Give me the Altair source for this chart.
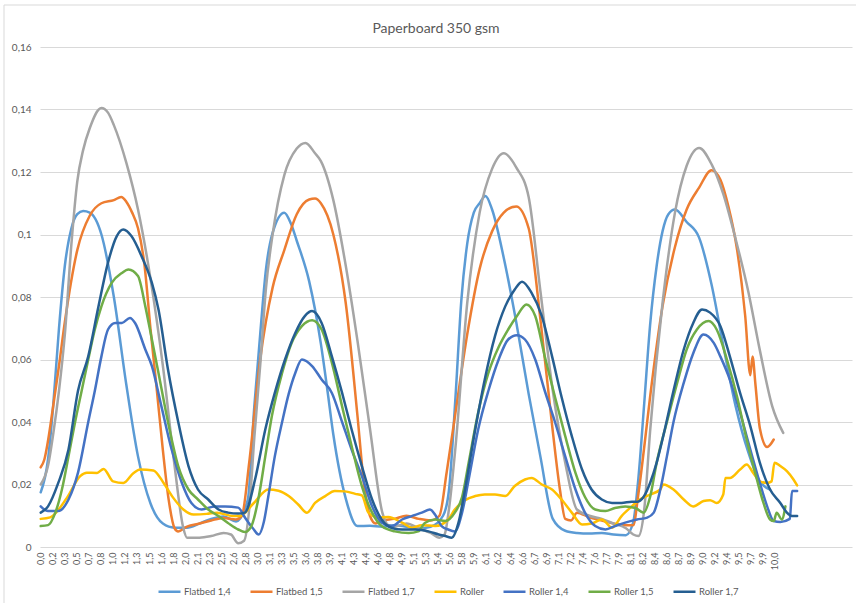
import json
import altair as alt
import pandas as pd

# ---------------- data ----------------
series_names = ["Flatbed 1,4", "Flatbed 1,5", "Flatbed 1,7", "Roller",
                "Roller 1,4", "Roller 1,5", "Roller 1,7"]
series_colors = ["#5B9BD5", "#ED7D31", "#A5A5A5", "#FFC000",
                 "#4472C4", "#70AD47", "#255E91"]

# category labels shown every 10th sample (sample step 0.01645)
x_tick_labels = ["0,0", "0,2", "0,3", "0,5", "0,7", "0,8", "1,0", "1,2", "1,3", "1,5",
                 "1,6", "1,8", "2,0", "2,1", "2,3", "2,5", "2,6", "2,8", "3,0", "3,1",
                 "3,3", "3,5", "3,6", "3,8", "3,9", "4,1", "4,3", "4,4", "4,6", "4,8",
                 "4,9", "5,1", "5,3", "5,4", "5,6", "5,8", "5,9", "6,1", "6,2", "6,4",
                 "6,6", "6,7", "6,9", "7,1", "7,2", "7,4", "7,6", "7,7", "7,9", "8,1",
                 "8,2", "8,4", "8,6", "8,7", "8,9", "9,0", "9,2", "9,4", "9,5", "9,7",
                 "9,9", "10,0"]
x_label_step = 0.1645
y_tick_values = [0, 0.02, 0.04, 0.06, 0.08, 0.10, 0.12, 0.14, 0.16]

flatbed_14 = [(0.00, 0.0175), (0.10, 0.028), (0.17, 0.045), (0.25, 0.070), (0.33, 0.090),
              (0.42, 0.102), (0.50, 0.1065), (0.58, 0.1075), (0.67, 0.107), (0.83, 0.100),
              (1.00, 0.080), (1.17, 0.052), (1.33, 0.029), (1.50, 0.014), (1.67, 0.0075),
              (1.83, 0.0062), (2.00, 0.0062), (2.17, 0.0075), (2.33, 0.009), (2.50, 0.0098),
              (2.67, 0.0082), (2.83, 0.015), (2.92, 0.045), (3.00, 0.068), (3.08, 0.089),
              (3.17, 0.1005), (3.33, 0.107), (3.42, 0.1035), (3.50, 0.098), (3.67, 0.085),
              (3.83, 0.065), (3.92, 0.050), (4.00, 0.036), (4.17, 0.0155), (4.33, 0.0067),
              (4.50, 0.0068), (4.67, 0.0065), (4.83, 0.007), (5.00, 0.0065), (5.17, 0.006),
              (5.33, 0.0065), (5.50, 0.010), (5.58, 0.018), (5.67, 0.048), (5.75, 0.079),
              (5.83, 0.097), (5.92, 0.107), (6.00, 0.110), (6.08, 0.1123), (6.17, 0.108),
              (6.33, 0.0925), (6.50, 0.072), (6.67, 0.049), (6.83, 0.029), (7.00, 0.009),
              (7.17, 0.0052), (7.33, 0.0045), (7.50, 0.0043), (7.67, 0.0045), (7.83, 0.004),
              (8.00, 0.0038), (8.10, 0.008), (8.17, 0.022), (8.25, 0.046), (8.33, 0.071),
              (8.42, 0.090), (8.50, 0.101), (8.58, 0.1065), (8.67, 0.108), (8.83, 0.104),
              (9.00, 0.099), (9.17, 0.084), (9.33, 0.0645), (9.50, 0.045), (9.67, 0.0305),
              (9.83, 0.021), (9.97, 0.0184)]

flatbed_15 = [(0.00, 0.0255), (0.05, 0.028), (0.10, 0.034), (0.17, 0.045), (0.25, 0.058),
              (0.33, 0.072), (0.50, 0.095), (0.67, 0.106), (0.83, 0.110), (1.00, 0.111),
              (1.10, 0.112), (1.17, 0.1105), (1.25, 0.107), (1.33, 0.102), (1.42, 0.090),
              (1.50, 0.070), (1.58, 0.052), (1.67, 0.031), (1.75, 0.015), (1.83, 0.006),
              (1.88, 0.005), (2.00, 0.0065), (2.17, 0.0075), (2.33, 0.0085), (2.50, 0.0093),
              (2.67, 0.0088), (2.75, 0.010), (2.85, 0.027), (3.00, 0.060), (3.17, 0.083),
              (3.33, 0.095), (3.50, 0.1065), (3.67, 0.1112), (3.75, 0.1115), (3.83, 0.110),
              (4.00, 0.100), (4.17, 0.078), (4.33, 0.042), (4.42, 0.020), (4.50, 0.010),
              (4.58, 0.0075), (4.67, 0.0085), (4.83, 0.009), (5.00, 0.010), (5.17, 0.009),
              (5.33, 0.0085), (5.45, 0.010), (5.55, 0.024), (5.67, 0.043), (5.83, 0.068),
              (6.00, 0.089), (6.17, 0.101), (6.33, 0.107), (6.50, 0.109), (6.67, 0.102),
              (6.83, 0.073), (7.00, 0.037), (7.10, 0.018), (7.17, 0.009), (7.25, 0.0085),
              (7.33, 0.011), (7.50, 0.0095), (7.67, 0.0085), (7.83, 0.0075), (8.00, 0.007),
              (8.10, 0.007), (8.17, 0.017), (8.25, 0.032), (8.33, 0.048), (8.50, 0.077),
              (8.67, 0.096), (8.83, 0.108), (9.00, 0.115), (9.17, 0.1206), (9.29, 0.1176),
              (9.40, 0.109), (9.52, 0.095), (9.63, 0.074), (9.70, 0.055), (9.73, 0.061),
              (9.77, 0.052), (9.83, 0.038), (9.93, 0.032), (10.02, 0.0344)]

flatbed_17 = [(0.00, 0.020), (0.10, 0.026), (0.17, 0.036), (0.25, 0.050), (0.33, 0.068),
              (0.42, 0.097), (0.50, 0.117), (0.58, 0.127), (0.67, 0.134), (0.83, 0.1405),
              (0.92, 0.139), (1.00, 0.135), (1.17, 0.123), (1.33, 0.108), (1.50, 0.086),
              (1.67, 0.058), (1.83, 0.026), (1.95, 0.006), (2.00, 0.003), (2.17, 0.003),
              (2.33, 0.0035), (2.50, 0.0045), (2.60, 0.004), (2.70, 0.0012), (2.78, 0.002),
              (2.85, 0.012), (2.92, 0.035), (3.00, 0.058), (3.08, 0.083), (3.17, 0.100),
              (3.33, 0.119), (3.50, 0.1275), (3.62, 0.1293), (3.75, 0.126), (3.83, 0.1235),
              (4.00, 0.111), (4.17, 0.090), (4.33, 0.066), (4.50, 0.038), (4.67, 0.011),
              (4.75, 0.007), (4.83, 0.0065), (5.00, 0.0075), (5.17, 0.006), (5.33, 0.0045),
              (5.45, 0.003), (5.52, 0.004), (5.58, 0.012), (5.67, 0.032), (5.83, 0.078),
              (6.00, 0.107), (6.17, 0.121), (6.33, 0.126), (6.50, 0.1215), (6.67, 0.112),
              (6.83, 0.082), (7.00, 0.050), (7.17, 0.027), (7.33, 0.012), (7.50, 0.010),
              (7.67, 0.009), (7.83, 0.0075), (8.00, 0.006), (8.10, 0.004), (8.17, 0.0035),
              (8.25, 0.012), (8.33, 0.037), (8.50, 0.078), (8.67, 0.107), (8.83, 0.122),
              (9.00, 0.1277), (9.17, 0.1225), (9.33, 0.113), (9.50, 0.0985), (9.67, 0.082),
              (9.83, 0.063), (10.00, 0.045), (10.15, 0.0365)]

roller = [(0.00, 0.009), (0.13, 0.0095), (0.36, 0.0158), (0.54, 0.0227), (0.63, 0.0238),
          (0.77, 0.0237), (0.86, 0.025), (0.99, 0.021), (1.13, 0.0205), (1.27, 0.0237),
          (1.36, 0.0248), (1.54, 0.0245), (1.68, 0.0205), (1.81, 0.0158), (1.95, 0.012),
          (2.09, 0.0104), (2.27, 0.0106), (2.41, 0.011), (2.63, 0.0099), (2.72, 0.0099),
          (2.91, 0.014), (3.11, 0.0184), (3.25, 0.018), (3.39, 0.0163), (3.52, 0.0136),
          (3.64, 0.011), (3.75, 0.0141), (3.89, 0.0163), (4.02, 0.0179), (4.16, 0.0178),
          (4.30, 0.017), (4.39, 0.0165), (4.48, 0.011), (4.62, 0.0094), (4.75, 0.0096),
          (4.94, 0.0078), (5.07, 0.0062), (5.21, 0.007), (5.39, 0.0067), (5.57, 0.0088),
          (5.66, 0.012), (5.80, 0.015), (5.94, 0.0163), (6.07, 0.0168), (6.21, 0.0168),
          (6.35, 0.0163), (6.48, 0.0195), (6.62, 0.0216), (6.71, 0.0221), (6.85, 0.020),
          (6.99, 0.0184), (7.12, 0.0152), (7.26, 0.011), (7.40, 0.0072), (7.53, 0.0075),
          (7.67, 0.0088), (7.81, 0.0062), (7.94, 0.0099), (8.08, 0.013), (8.19, 0.0152),
          (8.33, 0.0168), (8.47, 0.0184), (8.51, 0.020), (8.65, 0.0184), (8.79, 0.0152),
          (8.92, 0.013), (9.06, 0.0147), (9.15, 0.015), (9.24, 0.0141), (9.33, 0.0168),
          (9.36, 0.0221), (9.42, 0.0221), (9.56, 0.0248), (9.65, 0.0264), (9.74, 0.0237),
          (9.83, 0.021), (9.93, 0.0205), (9.99, 0.021), (10.03, 0.027), (10.11, 0.0259),
          (10.20, 0.0243), (10.29, 0.0216), (10.34, 0.0197)]

roller_14 = [(0.00, 0.013), (0.10, 0.0115), (0.24, 0.0115), (0.38, 0.0152), (0.51, 0.0238),
             (0.65, 0.040), (0.74, 0.050), (0.83, 0.061), (0.92, 0.0696), (1.02, 0.0717),
             (1.11, 0.0717), (1.22, 0.0733), (1.29, 0.0717), (1.43, 0.0632), (1.52, 0.0579),
             (1.65, 0.045), (1.79, 0.0312), (1.93, 0.0205), (2.06, 0.0141), (2.20, 0.012),
             (2.38, 0.013), (2.52, 0.013), (2.70, 0.0126), (2.79, 0.0095), (2.90, 0.006),
             (2.98, 0.004), (3.05, 0.008), (3.11, 0.016), (3.20, 0.029), (3.30, 0.040),
             (3.39, 0.049), (3.48, 0.0557), (3.57, 0.060), (3.71, 0.0579), (3.84, 0.0536),
             (3.98, 0.0493), (4.12, 0.040), (4.25, 0.0312), (4.39, 0.0227), (4.53, 0.013),
             (4.66, 0.0078), (4.80, 0.0067), (4.94, 0.0088), (5.07, 0.0099), (5.21, 0.011),
             (5.32, 0.012), (5.39, 0.0104), (5.48, 0.0067), (5.57, 0.0056), (5.66, 0.005),
             (5.76, 0.011), (5.85, 0.0216), (5.98, 0.0376), (6.12, 0.050), (6.26, 0.060),
             (6.39, 0.0664), (6.51, 0.0678), (6.62, 0.0664), (6.76, 0.060), (6.89, 0.050),
             (7.03, 0.040), (7.17, 0.029), (7.31, 0.0184), (7.44, 0.011), (7.58, 0.0067),
             (7.72, 0.0056), (7.85, 0.0067), (7.99, 0.0078), (8.15, 0.0088), (8.29, 0.0094),
             (8.38, 0.011), (8.47, 0.0184), (8.56, 0.029), (8.65, 0.040), (8.79, 0.0525),
             (8.92, 0.062), (9.06, 0.068), (9.20, 0.0653), (9.29, 0.061), (9.42, 0.0536),
             (9.56, 0.043), (9.70, 0.0312), (9.83, 0.0205), (9.93, 0.013), (10.02, 0.0083),
             (10.11, 0.008), (10.24, 0.009), (10.27, 0.0179), (10.34, 0.0179)]

roller_15 = [(0.00, 0.0067), (0.10, 0.007), (0.20, 0.011), (0.29, 0.0184), (0.38, 0.029),
             (0.47, 0.040), (0.56, 0.050), (0.65, 0.060), (0.74, 0.0696), (0.83, 0.077),
             (0.97, 0.0845), (1.11, 0.0877), (1.20, 0.0888), (1.33, 0.0867), (1.43, 0.077),
             (1.52, 0.0664), (1.61, 0.0557), (1.74, 0.040), (1.88, 0.0259), (2.02, 0.0184),
             (2.15, 0.0152), (2.29, 0.012), (2.43, 0.0099), (2.56, 0.0077), (2.70, 0.0056),
             (2.79, 0.0048), (2.88, 0.0067), (2.98, 0.016), (3.07, 0.029), (3.16, 0.0419),
             (3.30, 0.0557), (3.43, 0.0653), (3.57, 0.0707), (3.71, 0.0726), (3.84, 0.0696),
             (3.98, 0.059), (4.12, 0.045), (4.25, 0.0323), (4.39, 0.0195), (4.53, 0.011),
             (4.66, 0.0067), (4.84, 0.005), (5.03, 0.0045), (5.16, 0.005), (5.25, 0.0077),
             (5.39, 0.0088), (5.53, 0.0083), (5.66, 0.011), (5.76, 0.016), (5.85, 0.027),
             (5.98, 0.043), (6.12, 0.0557), (6.26, 0.064), (6.39, 0.0696), (6.51, 0.0739),
             (6.64, 0.0776), (6.76, 0.0739), (6.89, 0.061), (7.03, 0.048), (7.17, 0.0355),
             (7.31, 0.0237), (7.44, 0.016), (7.58, 0.012), (7.72, 0.0115), (7.85, 0.0125),
             (7.99, 0.013), (8.13, 0.0125), (8.24, 0.011), (8.33, 0.016), (8.42, 0.027),
             (8.56, 0.040), (8.70, 0.0525), (8.83, 0.0632), (8.97, 0.0696), (9.13, 0.0723),
             (9.24, 0.0696), (9.38, 0.060), (9.52, 0.048), (9.65, 0.0344), (9.79, 0.0216),
             (9.88, 0.0141), (9.97, 0.0088), (10.02, 0.0083), (10.06, 0.011), (10.13, 0.0088),
             (10.18, 0.013)]

roller_17 = [(0.00, 0.011), (0.10, 0.013), (0.24, 0.0205), (0.38, 0.0312), (0.51, 0.050),
             (0.65, 0.061), (0.79, 0.077), (0.92, 0.091), (1.04, 0.0995), (1.13, 0.1016),
             (1.24, 0.0995), (1.38, 0.093), (1.52, 0.0845), (1.61, 0.076), (1.74, 0.0568),
             (1.88, 0.040), (2.02, 0.0259), (2.15, 0.0184), (2.29, 0.0152), (2.43, 0.012),
             (2.56, 0.011), (2.70, 0.0107), (2.79, 0.011), (2.93, 0.0216), (3.07, 0.0376),
             (3.20, 0.0493), (3.34, 0.060), (3.48, 0.0685), (3.61, 0.0739), (3.71, 0.0755),
             (3.84, 0.0717), (3.98, 0.061), (4.12, 0.0493), (4.25, 0.0376), (4.39, 0.0259),
             (4.53, 0.0152), (4.66, 0.0088), (4.80, 0.0061), (4.94, 0.0056), (5.12, 0.0056),
             (5.30, 0.005), (5.44, 0.004), (5.53, 0.0035), (5.62, 0.003), (5.71, 0.0077),
             (5.80, 0.0184), (5.94, 0.0376), (6.07, 0.0536), (6.21, 0.0675), (6.35, 0.077),
             (6.48, 0.0824), (6.58, 0.0849), (6.71, 0.0813), (6.85, 0.0739), (6.99, 0.061),
             (7.12, 0.048), (7.26, 0.0355), (7.40, 0.0248), (7.53, 0.0184), (7.67, 0.0152),
             (7.81, 0.0141), (7.94, 0.0141), (8.08, 0.0145), (8.15, 0.0145), (8.24, 0.016),
             (8.33, 0.0205), (8.42, 0.027), (8.51, 0.0355), (8.65, 0.050), (8.79, 0.0632),
             (8.92, 0.0717), (9.04, 0.076), (9.15, 0.075), (9.29, 0.0707), (9.42, 0.061),
             (9.56, 0.0493), (9.70, 0.0387), (9.83, 0.027), (9.97, 0.0184), (10.11, 0.0141),
             (10.20, 0.011), (10.27, 0.0099), (10.34, 0.0099)]

all_series = [flatbed_14, flatbed_15, flatbed_17, roller, roller_14, roller_15, roller_17]

# ---------------- build table ----------------
rows = []
for name, pts in zip(series_names, all_series):
    for xv, yv in pts:
        rows.append({"series": name, "x": xv, "y": yv})
df = pd.DataFrame(rows)

tick_positions = [round(i * x_label_step, 4) for i in range(len(x_tick_labels))]
x_label_expr = json.dumps(x_tick_labels) + f"[round(datum.value / {x_label_step})]"

FONT = "Lato"
GREY = "#595959"
GRID = "#D9D9D9"

lines = alt.Chart(df).mark_line(
    strokeWidth=2.5, interpolate="monotone", strokeJoin="round", strokeCap="round"
).encode(
    x=alt.X("x:Q",
            scale=alt.Scale(domain=[-0.0096, 11.09], nice=False, zero=False),
            axis=alt.Axis(values=tick_positions, labelExpr=x_label_expr, labelAngle=270,
                          labelFontSize=9, labelColor=GREY, labelFont=FONT,
                          grid=False, ticks=False, domain=False, labelPadding=5,
                          labelOverlap=False, labelFlush=False, title="")),
    y=alt.Y("y:Q",
            scale=alt.Scale(domain=[0, 0.16], nice=False),
            axis=alt.Axis(values=y_tick_values,
                          labelExpr="replace(format(datum.value, '.2~f'), '.', ',')",
                          labelFontSize=10, labelColor=GREY, labelFont=FONT,
                          grid=True, gridColor=GRID, gridWidth=1,
                          ticks=False, domain=False, labelPadding=9, title="")),
    color=alt.Color("series:N",
                    scale=alt.Scale(domain=series_names, range=series_colors),
                    legend=alt.Legend(orient="none", legendX=117, legendY=532,
                                      direction="horizontal", title=None,
                                      symbolType="stroke", symbolSize=484,
                                      symbolStrokeWidth=2.5, labelFontSize=9.5,
                                      labelColor=GREY, labelFont=FONT,
                                      columnPadding=14, labelOffset=2, padding=0)),
)

border_df = pd.DataFrame({"k": [0]})
border_top = alt.Chart(border_df).mark_rule(color=GRID, strokeWidth=1).encode(
    x=alt.value(-36), x2=alt.value(830), y=alt.value(-42))
border_left = alt.Chart(border_df).mark_rule(color=GRID, strokeWidth=1).encode(
    x=alt.value(-36), y=alt.value(-42), y2=alt.value(570))

chart = alt.layer(border_top, border_left, lines).properties(
    width=812, height=500,
    autosize=alt.AutoSizeParams(type="none"),
    padding={"left": 40, "top": 47, "right": 4, "bottom": 56},
    title=alt.TitleParams(text="Paperboard 350 gsm", fontSize=14, font=FONT,
                          color=GREY, fontWeight="normal", anchor="middle",
                          dx=-10, offset=-31),
    background="white",
).configure_view(strokeWidth=0)

chart.save("out.html", embed_options={"renderer": "svg", "actions": False})
